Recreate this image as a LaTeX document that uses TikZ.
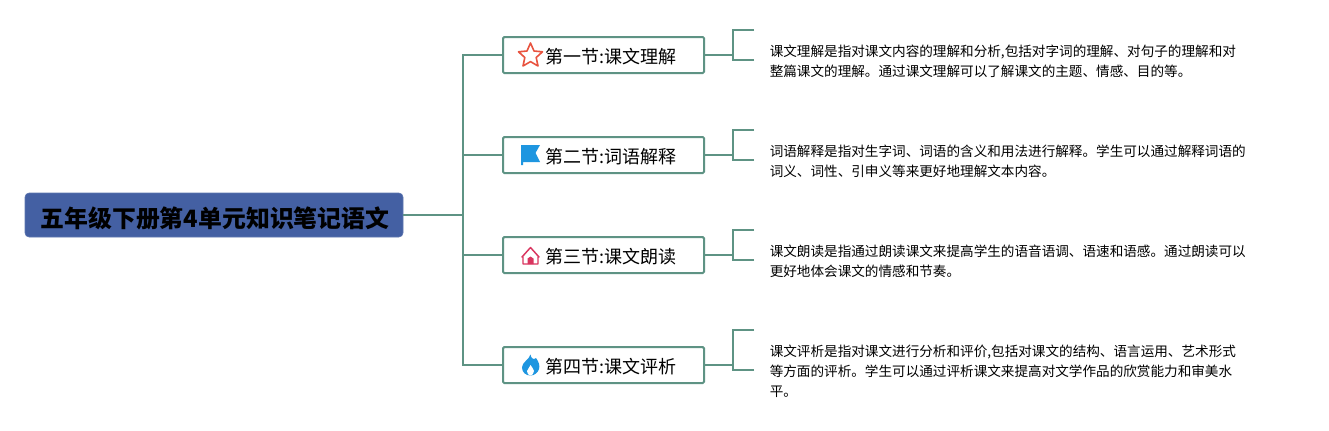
\documentclass[tikz,border=0pt]{standalone}
\usepackage{fontspec}
\setmainfont{Noto Sans CJK SC}
\definecolor{linegreen}{HTML}{5E9384}
\definecolor{rootblue}{HTML}{4460A3}
\definecolor{starred}{HTML}{E8533F}
\definecolor{flagblue}{HTML}{1E96E0}
\definecolor{homered}{HTML}{D9355F}
\begin{document}
\begin{tikzpicture}[x=0.75pt,y=-0.75pt,
  conn/.style={draw=linegreen,line width=1.5pt},
  rootbox/.style={fill=rootblue,draw=rootblue!85!white,rounded corners=3pt,minimum width=283.5pt,minimum height=33pt,inner sep=0pt},
  secbox/.style={fill=white,draw=linegreen,line width=1.5pt,rounded corners=1pt,minimum width=150.75pt,minimum height=27pt,inner sep=0pt},
  sectext/.style={anchor=west,inner sep=0pt,font=\fontsize{13.5}{16}\selectfont},
  desc/.style={anchor=west,inner sep=0pt,align=left,font=\fontsize{10.2}{15}\selectfont}]
\useasboundingbox (0,0) rectangle (1329,430);
\fill[white] (0,0) rectangle (1329,430);

\coordinate (spine) at (463,215);
\coordinate (j1) at (463,55);
\coordinate (j2) at (463,155);
\coordinate (j3) at (463,255);
\coordinate (j4) at (463,365);

\node[rootbox] (root) at (214,215) {};
\node[inner sep=0pt,font=\fontsize{17.9}{22}\selectfont\bfseries] (roottext) at (215,218) {五年级下册第4单元知识笔记语文};

\node[secbox] (s1) at (603.5,55) {};
\node[secbox] (s2) at (603.5,155) {};
\node[secbox] (s3) at (603.5,255) {};
\node[secbox] (s4) at (603.5,365) {};

\node[sectext] (t1) at (545,57) {第一节:课文理解};
\node[sectext] (t2) at (545,157) {第二节:词语解释};
\node[sectext] (t3) at (545,257) {第三节:课文朗读};
\node[sectext] (t4) at (545,367) {第四节:课文评析};

\coordinate (b1) at (733,55);
\coordinate (b2) at (733,155);
\coordinate (b3) at (733,255);
\coordinate (b4) at (733,365);
\coordinate (u1) at (754,30);  \coordinate (l1) at (754,60);
\coordinate (u2) at (754,130); \coordinate (l2) at (754,160);
\coordinate (u3) at (754,230); \coordinate (l3) at (754,260);
\coordinate (u4) at (754,330); \coordinate (l4) at (754,370);

\draw[conn] (root.east) -- (spine);
\draw[conn,line cap=rect] (j1) -- (j4);
\foreach \i in {1,2,3,4}{
  \draw[conn] (j\i) -- (s\i.west);
  \draw[conn] (s\i.east) -- (b\i);
  \draw[conn] (u\i) -| (b\i);
  \draw[conn] (l\i) -| (b\i);
}

\node[desc] (d1) at (769.5,61) {课文理解是指对课文内容的理解和分析,包括对字词的理解、对句子的理解和对\\整篇课文的理解。通过课文理解可以了解课文的主题、情感、目的等。};
\node[desc] (d2) at (769.5,161) {词语解释是指对生字词、词语的含义和用法进行解释。学生可以通过解释词语的\\词义、词性、引申义等来更好地理解文本内容。};
\node[desc] (d3) at (769.5,261) {课文朗读是指通过朗读课文来提高学生的语音语调、语速和语感。通过朗读可以\\更好地体会课文的情感和节奏。};
\node[desc] (d4) at (769.5,371) {课文评析是指对课文进行分析和评价,包括对课文的结构、语言运用、艺术形式\\等方面的评析。学生可以通过评析课文来提高对文学作品的欣赏能力和审美水\\平。};

% star icon
\draw[starred,line width=1.2pt,line join=round,fill=white]
  (530.5,43) -- (534,51) -- (542.5,51.8) -- (536.2,57.5) -- (538,66) -- (530.5,61.6)
  -- (523,66) -- (524.8,57.5) -- (518.5,51.8) -- (527,51) -- cycle;

% flag icon
\fill[flagblue] (521,145) -- (540,145) -- (535.5,153) -- (540,162) -- (523,162) -- (523,165) -- (521,165) -- cycle;

% house icon
\draw[homered,line width=1.1pt,line join=round,fill=white]
  (522,257) -- (530.5,247.5) -- (539,257) -- (538,257) -- (538,264) -- (523,264) -- (523,257) -- cycle;
\fill[homered] (527.5,264) -- (527.5,258.5) -- (530.5,256.5) -- (533.5,258.5) -- (533.5,264) -- cycle;

% flame icon
\fill[flagblue] (530.5,354.5)
  .. controls (531,359) and (534,360) .. (536,358)
  .. controls (539,362) and (540,366) .. (539,369)
  .. controls (538,373) and (534,375.5) .. (530.5,375.5)
  .. controls (526.5,375.5) and (522,373) .. (522,367.5)
  .. controls (522,362) and (529,360) .. (530.5,354.5) -- cycle;
\fill[white] (530.5,365)
  .. controls (532,368) and (534,369) .. (534,371)
  .. controls (534,373.5) and (532,375.5) .. (530.5,375.5)
  .. controls (528.5,375.5) and (527,373.5) .. (527,371)
  .. controls (527,369) and (530,368) .. (530.5,365) -- cycle;
\end{tikzpicture}
\end{document}
